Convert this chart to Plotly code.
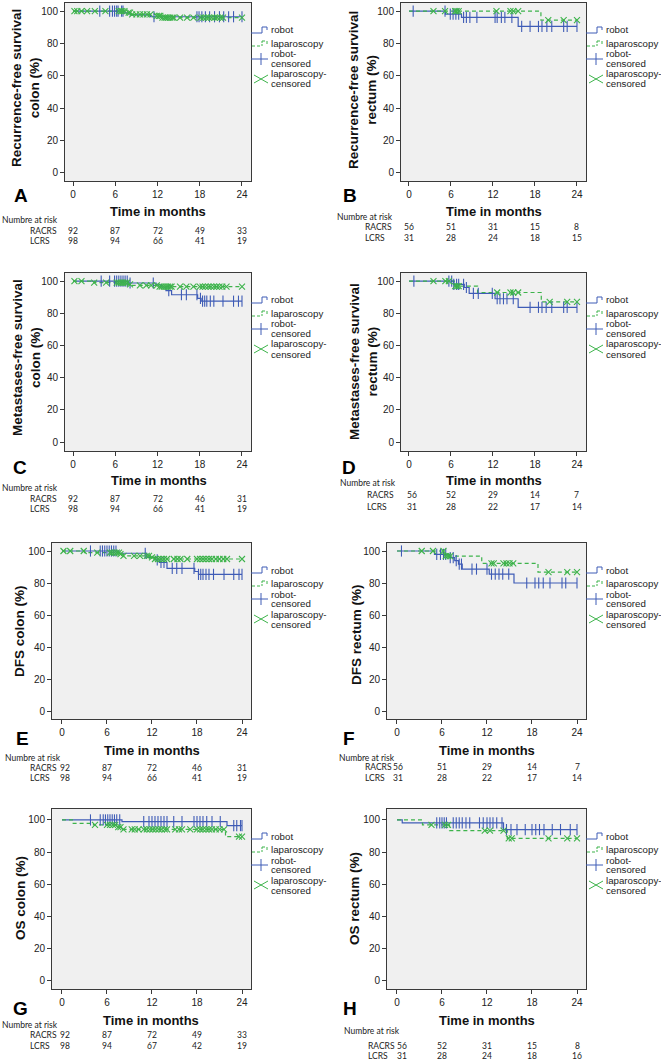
import numpy as np
import plotly.graph_objects as go

# ---------------- data ----------------
# A: recurrence-free survival, colon
rfs_colon_robot_time = [7.2, 8.1, 11.0]
rfs_colon_robot_surv = [98.9, 97.7, 96.5]
rfs_colon_robot_cens = [3.8, 5.2, 5.6, 5.9, 6.2, 6.4, 6.9, 7.1, 11.5, 17.6, 17.9, 18.3, 18.8, 19.4,
                        20.1, 20.8, 21.4, 22.1, 22.8, 24.0]
rfs_colon_lap_time = [7.6, 8.3, 11.8, 12.6]
rfs_colon_lap_surv = [99.0, 98.0, 97.0, 96.0]
rfs_colon_lap_cens = [0.2, 0.6, 1.2, 2.0, 3.1, 4.6, 6.5, 6.8, 7.0, 7.3, 7.9, 8.1, 8.4, 9.0, 9.5, 10.0,
                      10.5, 11.0, 11.9, 12.2, 12.4, 12.7, 13.0, 13.2, 13.5, 13.8, 14.1, 14.3, 15.2,
                      16.2, 17.1, 18.1, 18.5, 18.9, 19.3, 19.7, 20.1, 20.5, 20.9, 21.3, 24.0]
rfs_colon_risk_racrs = [92, 87, 72, 49, 33]
rfs_colon_risk_lcrs = [98, 94, 66, 41, 19]

# B: recurrence-free survival, rectum
rfs_rectum_robot_time = [5.2, 7.5, 15.6]
rfs_rectum_robot_surv = [98.1, 96.1, 90.5]
rfs_rectum_robot_cens = [0.6, 5.15, 5.9, 6.3, 6.7, 7.1, 7.8, 8.2, 8.7, 9.7, 12.3, 12.6, 13.2, 13.7,
                         14.7, 16.1, 17.3, 18.5, 19.0, 19.7, 20.4, 22.1, 22.6, 24.0]
rfs_rectum_lap_time = [18.85]
rfs_rectum_lap_surv = [94.4]
rfs_rectum_lap_cens = [3.5, 5.15, 6.6, 6.8, 7.1, 12.5, 14.5, 14.9, 15.6, 19.9, 22.1, 24.0]
rfs_rectum_risk_racrs = [56, 51, 31, 15, 8]
rfs_rectum_risk_lcrs = [31, 28, 24, 18, 15]

# C: metastases-free survival, colon
mfs_colon_robot_time = [7.9, 11.8, 12.6, 13.2, 14.0, 17.7, 18.2]
mfs_colon_robot_surv = [98.8, 97.6, 96.3, 94.0, 91.5, 89.3, 87.5]
mfs_colon_robot_cens = [4.0, 5.2, 5.9, 6.2, 6.5, 6.8, 7.1, 7.4, 7.7, 8.1, 11.4, 13.6, 15.4, 16.1,
                        17.6, 18.1, 18.4, 18.7, 19.0, 19.5, 20.0, 21.3, 22.8, 23.5, 24.0]
mfs_colon_lap_time = [3.0, 7.8, 8.3, 12.2]
mfs_colon_lap_surv = [99.0, 98.0, 97.3, 96.5]
mfs_colon_lap_cens = [0.2, 1.2, 3.0, 4.7, 6.2, 6.5, 6.8, 7.1, 7.4, 7.7, 8.1, 9.5, 10.4, 11.1, 11.9,
                      12.3, 12.6, 12.9, 13.2, 13.5, 13.8, 14.0, 15.2, 16.1, 17.1, 18.0, 18.4, 18.8,
                      19.2, 19.6, 20.0, 20.4, 20.8, 21.2, 21.8, 24.0]
mfs_colon_risk_racrs = [92, 87, 72, 46, 31]
mfs_colon_risk_lcrs = [98, 94, 66, 41, 19]

# D: metastases-free survival, rectum
mfs_rectum_robot_time = [6.4, 7.9, 8.6, 12.3, 15.6]
mfs_rectum_robot_surv = [98.0, 96.0, 92.3, 89.0, 83.7]
mfs_rectum_robot_cens = [0.7, 5.7, 6.1, 6.4, 6.8, 7.1, 7.8, 8.2, 9.2, 9.9, 11.9, 12.6, 13.0, 13.5,
                         14.0, 14.9, 17.3, 18.5, 19.0, 19.6, 20.4, 22.1, 22.6, 24.0]
mfs_rectum_lap_time = [6.6, 9.8, 18.9]
mfs_rectum_lap_surv = [96.8, 92.9, 87.1]
mfs_rectum_lap_cens = [3.5, 5.2, 5.7, 6.6, 6.9, 7.1, 12.6, 14.5, 14.9, 15.6, 20.1, 22.6, 24.0]
mfs_rectum_risk_racrs = [56, 52, 29, 14, 7]
mfs_rectum_risk_lcrs = [31, 28, 22, 17, 14]

# E: disease-free survival, colon
dfs_colon_robot_time = [7.6, 11.3, 12.5, 13.0, 14.0, 17.7, 18.2]
dfs_colon_robot_surv = [98.6, 96.0, 94.5, 92.8, 89.1, 87.2, 85.4]
dfs_colon_robot_cens = [3.8, 5.1, 5.4, 5.7, 6.0, 6.3, 6.6, 6.9, 7.2, 11.1, 12.7, 13.2, 13.6, 14.7,
                        15.3, 16.0, 17.6, 18.2, 18.5, 18.8, 19.2, 19.6, 20.2, 21.6, 22.9, 23.6, 24.0]
dfs_colon_lap_time = [3.0, 7.8, 8.2, 11.8, 12.4]
dfs_colon_lap_surv = [99.0, 98.0, 97.0, 96.0, 95.0]
dfs_colon_lap_cens = [0.2, 1.1, 2.9, 4.7, 6.4, 6.7, 7.0, 7.3, 7.6, 7.8, 8.2, 9.6, 10.4, 11.3, 11.6,
                      12.0, 12.4, 12.8, 13.2, 13.6, 14.0, 14.9, 15.4, 15.8, 16.7, 18.0, 18.4, 18.8,
                      19.2, 19.6, 20.0, 20.5, 21.0, 21.5, 22.0, 24.0]
dfs_colon_risk_racrs = [92, 87, 72, 46, 31]
dfs_colon_risk_lcrs = [98, 94, 66, 41, 19]

# F: disease-free survival, rectum
dfs_rectum_robot_time = [5.0, 7.0, 7.7, 8.2, 8.7, 12.3, 15.6]
dfs_rectum_robot_surv = [97.9, 95.9, 94.0, 91.8, 88.7, 85.5, 80.0]
dfs_rectum_robot_cens = [0.6, 5.3, 5.8, 6.2, 6.5, 7.1, 7.5, 7.9, 8.3, 8.6, 10.0, 10.6, 12.0, 12.6,
                         13.1, 13.6, 14.1, 14.9, 17.3, 18.4, 18.9, 19.5, 20.4, 22.0, 22.5, 24.0]
dfs_rectum_lap_time = [6.3, 11.3, 18.8]
dfs_rectum_lap_surv = [96.8, 92.3, 86.8]
dfs_rectum_lap_cens = [3.3, 4.8, 6.2, 6.5, 6.8, 7.1, 12.6, 12.9, 14.2, 14.6, 15.0, 15.5, 20.2, 22.7, 24.0]
dfs_rectum_risk_racrs = [56, 51, 29, 14, 7]
dfs_rectum_risk_lcrs = [31, 28, 22, 17, 14]

# G: overall survival, colon
os_colon_robot_time = [8.0, 22.0]
os_colon_robot_surv = [99.0, 96.5]
os_colon_robot_cens = [3.8, 5.1, 5.5, 5.8, 6.1, 6.4, 6.7, 7.0, 7.3, 7.7, 10.9, 11.6, 12.0, 12.4,
                       12.8, 13.2, 13.6, 14.0, 14.9, 16.0, 17.6, 18.0, 18.4, 18.8, 19.3, 20.0, 21.1,
                       22.9, 23.3, 23.8, 24.0]
os_colon_lap_time = [1.4, 4.2, 7.3, 7.9, 21.8]
os_colon_lap_surv = [97.9, 96.9, 95.5, 94.2, 89.6]
os_colon_lap_cens = [4.4, 6.0, 6.4, 6.8, 7.1, 7.5, 7.8, 8.2, 9.3, 9.7, 10.2, 10.9, 11.3, 11.7, 12.1,
                     12.5, 12.9, 13.3, 13.7, 14.0, 15.1, 15.6, 16.0, 17.1, 18.0, 18.4, 18.8, 19.2,
                     19.6, 20.0, 20.5, 21.0, 21.6, 23.6, 24.0]
os_colon_risk_racrs = [92, 87, 72, 49, 33]
os_colon_risk_lcrs = [98, 94, 67, 42, 19]

# H: overall survival, rectum
os_rectum_robot_time = [0.7, 14.2]
os_rectum_robot_surv = [98.2, 94.0]
os_rectum_robot_cens = [5.3, 5.7, 6.0, 6.3, 6.6, 7.5, 7.9, 8.3, 8.7, 9.2, 9.7, 11.0, 11.5, 12.0,
                        12.4, 12.8, 13.3, 14.0, 14.6, 15.2, 16.0, 17.1, 18.0, 18.5, 19.0, 19.6,
                        20.7, 21.8, 23.1, 24.0]
os_rectum_lap_time = [3.4, 7.0, 14.7]
os_rectum_lap_surv = [97.0, 93.4, 88.6]
os_rectum_lap_cens = [4.6, 6.4, 6.8, 11.7, 12.4, 14.2, 14.9, 15.3, 20.2, 22.7, 24.0]
os_rectum_risk_racrs = [56, 52, 31, 15, 8]
os_rectum_risk_lcrs = [31, 28, 24, 18, 16]

x_ticks = [0, 6, 12, 18, 24]
y_ticks = [0, 20, 40, 60, 80, 100]
x_title = "Time in months"
risk_title = "Numbre at risk"
group_labels = ["RACRS", "LCRS"]
legend_labels = ["robot", "laparoscopy", "robot-", "censored", "laparoscopy-", "censored"]

# ---------------- layout (pixel boxes) ----------------
W, H = 661, 1060
BLUE = "#3F5CB6"
GREEN = "#3DB34B"
FRAME = "#3A3A3A"
SANS = "Liberation Sans, Arial, sans-serif"
RISKFONT = "Lato, Liberation Sans, sans-serif"


def P(x):
    return x / W


def Q(y):
    return 1 - y / H


panels = [
    dict(letter="A", ytitle="Recurrence-free survival<br>colon (%)",
         L=65, R=251, T=3, B=181, xr=[-1.14, 25.28], yr=[-5, 105],
         ytc=(26, 88), xtc=(158, 212), lc=(21, 195), nar=(0, 220), lab=28, rows=(231, 241), fs=0,
         rt=rfs_colon_robot_time, rs=rfs_colon_robot_surv, rc=rfs_colon_robot_cens,
         lt=rfs_colon_lap_time, ls=rfs_colon_lap_surv, lcn=rfs_colon_lap_cens,
         risk=(rfs_colon_risk_racrs, rfs_colon_risk_lcrs)),
    dict(letter="B", ytitle="Recurrence-free survival<br>rectum (%)",
         L=401, R=586, T=3, B=181, xr=[-1.14, 25.29], yr=[-5, 105],
         ytc=(363, 90), xtc=(494, 212), lc=(350, 195), nar=(335, 217), lab=363, rows=(227, 238), fs=0,
         rt=rfs_rectum_robot_time, rs=rfs_rectum_robot_surv, rc=rfs_rectum_robot_cens,
         lt=rfs_rectum_lap_time, ls=rfs_rectum_lap_surv, lcn=rfs_rectum_lap_cens,
         risk=(rfs_rectum_risk_racrs, rfs_rectum_risk_lcrs)),
    dict(letter="C", ytitle="Metastases-free survival<br>colon (%)",
         L=65, R=251, T=273, B=451, xr=[-1.14, 25.28], yr=[-5.5, 105],
         ytc=(26, 358), xtc=(159, 481), lc=(20, 467), nar=(0, 488), lab=28, rows=(499, 509), fs=0,
         rt=mfs_colon_robot_time, rs=mfs_colon_robot_surv, rc=mfs_colon_robot_cens,
         lt=mfs_colon_lap_time, ls=mfs_colon_lap_surv, lcn=mfs_colon_lap_cens,
         risk=(mfs_colon_risk_racrs, mfs_colon_risk_lcrs)),
    dict(letter="D", ytitle="Metastases-free survival<br>rectum (%)",
         L=401, R=586, T=273, B=451, xr=[-1.14, 25.29], yr=[-5.5, 105],
         ytc=(363, 362), xtc=(494, 481), lc=(349, 467), nar=(338, 483), lab=365, rows=(495, 507), fs=3,
         rt=mfs_rectum_robot_time, rs=mfs_rectum_robot_surv, rc=mfs_rectum_robot_cens,
         lt=mfs_rectum_lap_time, ls=mfs_rectum_lap_surv, lcn=mfs_rectum_lap_cens,
         risk=(mfs_rectum_risk_racrs, mfs_rectum_risk_lcrs)),
    dict(letter="E", ytitle="DFS colon (%)",
         L=52, R=251, T=543, B=719, xr=[-1.33, 25.2], yr=[-5, 105],
         ytc=(19, 631), xtc=(152, 750), lc=(22, 738), nar=(3, 758), lab=28, rows=(768, 778), fs=3,
         rt=dfs_colon_robot_time, rs=dfs_colon_robot_surv, rc=dfs_colon_robot_cens,
         lt=dfs_colon_lap_time, ls=dfs_colon_lap_surv, lcn=dfs_colon_lap_cens,
         risk=(dfs_colon_risk_racrs, dfs_colon_risk_lcrs)),
    dict(letter="F", ytitle="DFS rectum (%)",
         L=387, R=586, T=543, B=719, xr=[-1.33, 25.2], yr=[-5, 105],
         ytc=(356, 635), xtc=(487, 750), lc=(349, 738), nar=(337, 758), lab=363, rows=(767, 778), fs=1,
         rt=dfs_rectum_robot_time, rs=dfs_rectum_robot_surv, rc=dfs_rectum_robot_cens,
         lt=dfs_rectum_lap_time, ls=dfs_rectum_lap_surv, lcn=dfs_rectum_lap_cens,
         risk=(dfs_rectum_risk_racrs, dfs_rectum_risk_lcrs)),
    dict(letter="G", ytitle="OS colon (%)",
         L=52, R=251, T=809, B=989, xr=[-1.33, 25.2], yr=[-5, 106.8],
         ytc=(20, 898), xtc=(151, 1020), lc=(20, 1008), nar=(0, 1025), lab=28, rows=(1035, 1046), fs=3,
         rt=os_colon_robot_time, rs=os_colon_robot_surv, rc=os_colon_robot_cens,
         lt=os_colon_lap_time, ls=os_colon_lap_surv, lcn=os_colon_lap_cens,
         risk=(os_colon_risk_racrs, os_colon_risk_lcrs)),
    dict(letter="H", ytitle="OS rectum (%)",
         L=387, R=586, T=809, B=989, xr=[-1.33, 25.2], yr=[-5, 106.8],
         ytc=(354, 899), xtc=(487, 1020), lc=(350, 1008), nar=(342, 1031), lab=366, rows=(1046, 1056), fs=5,
         rt=os_rectum_robot_time, rs=os_rectum_robot_surv, rc=os_rectum_robot_cens,
         lt=os_rectum_lap_time, ls=os_rectum_lap_surv, lcn=os_rectum_lap_cens,
         risk=(os_rectum_risk_racrs, os_rectum_risk_lcrs)),
]


def step_xy(times, surv, cens):
    end = max(cens + times)
    xs = [0] + list(times) + [end]
    ys = [100] + list(surv) + [surv[-1]]
    return xs, ys


def value_at(times, surv, t):
    t_arr = np.asarray(times)
    s_arr = np.asarray([100] + list(surv))
    idx = np.searchsorted(t_arr, np.asarray(t), side="right")
    return s_arr[idx]


fig = go.Figure()
annotations = []
shapes = []
layout_axes = {}

for i, p in enumerate(panels, start=1):
    xa = "x" if i == 1 else f"x{i}"
    ya = "y" if i == 1 else f"y{i}"
    xkey = "xaxis" if i == 1 else f"xaxis{i}"
    ykey = "yaxis" if i == 1 else f"yaxis{i}"

    rx, ry = step_xy(p["rt"], p["rs"], p["rc"])
    lx, ly = step_xy(p["lt"], p["ls"], p["lcn"])
    fig.add_trace(go.Scatter(x=rx, y=ry, mode="lines", line=dict(color=BLUE, width=1.2, shape="hv"),
                             xaxis=xa, yaxis=ya, showlegend=False, hoverinfo="skip"))
    fig.add_trace(go.Scatter(x=lx, y=ly, mode="lines",
                             line=dict(color=GREEN, width=1.2, shape="hv", dash="4px,3px"),
                             xaxis=xa, yaxis=ya, showlegend=False, hoverinfo="skip"))
    fig.add_trace(go.Scatter(x=p["rc"], y=value_at(p["rt"], p["rs"], p["rc"]), mode="markers",
                             marker=dict(symbol="line-ns", size=8, line=dict(color=BLUE, width=1.1)),
                             xaxis=xa, yaxis=ya, showlegend=False, hoverinfo="skip"))
    fig.add_trace(go.Scatter(x=p["lcn"], y=value_at(p["lt"], p["ls"], p["lcn"]), mode="markers",
                             marker=dict(symbol="x-thin", size=6, line=dict(color=GREEN, width=1.1)),
                             xaxis=xa, yaxis=ya, showlegend=False, hoverinfo="skip"))

    layout_axes[xkey] = dict(domain=[P(p["L"]), P(p["R"])], range=p["xr"], anchor=ya,
                             tickvals=x_ticks, ticks="outside", ticklen=4, tickcolor=FRAME,
                             showline=True, mirror=True, linecolor=FRAME, linewidth=1,
                             showgrid=False, zeroline=False, fixedrange=True,
                             tickfont=dict(family=SANS, size=10, color="#222"))
    layout_axes[ykey] = dict(domain=[Q(p["B"]), Q(p["T"])], range=p["yr"], anchor=xa,
                             tickvals=y_ticks, ticks="outside", ticklen=4, tickcolor=FRAME,
                             showline=True, mirror=True, linecolor=FRAME, linewidth=1,
                             showgrid=False, zeroline=False, fixedrange=True,
                             tickfont=dict(family=SANS, size=10, color="#222"))

    # y title
    annotations.append(dict(text="<b>" + p["ytitle"] + "</b>", textangle=-90, xref="paper", yref="paper",
                            x=P(p["ytc"][0]), y=Q(p["ytc"][1]), xanchor="center", yanchor="middle",
                            showarrow=False, font=dict(family=SANS, size=13.5, color="#111")))
    # x title
    annotations.append(dict(text="<b>" + x_title + "</b>", xref="paper", yref="paper",
                            x=P(p["xtc"][0]), y=Q(p["xtc"][1]), xanchor="center", yanchor="middle",
                            showarrow=False, font=dict(family=SANS, size=13, color="#111")))
    # panel letter
    annotations.append(dict(text="<b>" + p["letter"] + "</b>", xref="paper", yref="paper",
                            x=P(p["lc"][0]), y=Q(p["lc"][1]), xanchor="center", yanchor="middle",
                            showarrow=False, font=dict(family=SANS, size=19, color="#000")))
    # risk table
    rf = dict(family=RISKFONT, size=8.5, color="#222")
    annotations.append(dict(text=risk_title, xref="paper", yref="paper", x=P(p["nar"][0]),
                            y=Q(p["nar"][1]), xanchor="left", yanchor="middle", showarrow=False, font=rf))
    for lab, vals, ry_ in zip(group_labels, p["risk"], p["rows"]):
        annotations.append(dict(text=lab, xref="paper", yref="paper", x=P(p["lab"]), y=Q(ry_),
                                xanchor="left", yanchor="middle", showarrow=False, font=rf))
        for k, (tv, v) in enumerate(zip(x_ticks, vals)):
            annotations.append(dict(text=str(v), xref=xa, yref="paper", x=tv, y=Q(ry_),
                                    xshift=p["fs"] if k == 0 else 0,
                                    xanchor="center", yanchor="middle", showarrow=False, font=rf))

    # legend
    R, T = p["R"], p["T"]
    lf = dict(family=SANS, size=9.7, color="#222")
    for txt, off in zip(legend_labels, [27, 40, 51, 60, 71, 81]):
        annotations.append(dict(text=txt, xref="paper", yref="paper", x=P(R + 18), y=Q(T + off),
                                xanchor="left", yanchor="middle", showarrow=False, font=lf))

    def seg(x0, y0, x1, y1, color, dash="solid"):
        shapes.append(dict(type="line", xref="paper", yref="paper", x0=P(x0), y0=Q(y0), x1=P(x1),
                           y1=Q(y1), line=dict(color=color, width=1, dash=dash)))

    # robot step symbol
    seg(R, T + 30, R + 11, T + 30, BLUE)
    seg(R + 11, T + 30, R + 11, T + 24, BLUE)
    seg(R + 11, T + 24, R + 16, T + 24, BLUE)
    seg(R + 16, T + 24, R + 16, T + 27, BLUE)
    # laparoscopy dashed step symbol
    seg(R + 1, T + 43, R + 11, T + 43, GREEN, "3px,2px")
    seg(R + 11, T + 43, R + 11, T + 38, GREEN, "2px,1px")
    seg(R + 11, T + 38, R + 16, T + 38, GREEN, "3px,2px")
    seg(R + 16, T + 38, R + 16, T + 41, GREEN)
    # robot censored
    seg(R, T + 56, R + 17, T + 56, BLUE)
    seg(R + 10, T + 50, R + 10, T + 62, BLUE)
    # laparoscopy censored
    seg(R + 3, T + 72, R + 17, T + 80, GREEN)
    seg(R + 3, T + 80, R + 17, T + 72, GREEN)

fig.update_layout(width=W, height=H, margin=dict(l=0, r=0, t=0, b=0),
                  paper_bgcolor="white", plot_bgcolor="#F0F0F0", showlegend=False,
                  annotations=annotations, shapes=shapes, **layout_axes)

fig.write_html("out.html", config={"displayModeBar": False, "staticPlot": True},
               post_script="document.body.style.margin='0px';document.body.style.overflow='hidden';")
